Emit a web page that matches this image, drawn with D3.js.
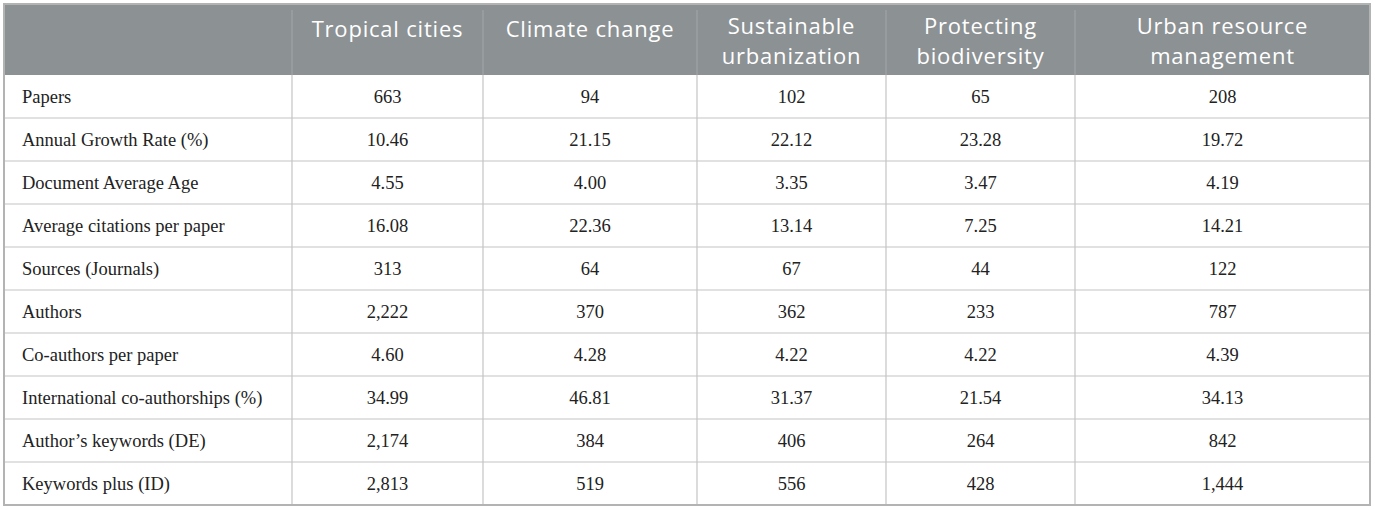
<!DOCTYPE html>
<html>
<head>
<meta charset="utf-8">
<script src="https://cdn.jsdelivr.net/npm/d3@7"></script>
<style>
  body { margin: 0; background: #fff; }
</style>
</head>
<body>
<div id="table"></div>
<script>
// column headers (line breaks as in the figure)
const columns = [
  ["Tropical cities"],
  ["Climate change"],
  ["Sustainable", "urbanization"],
  ["Protecting", "biodiversity"],
  ["Urban resource", "management"]
];

const rowLabels = [
  "Papers",
  "Annual Growth Rate (%)",
  "Document Average Age",
  "Average citations per paper",
  "Sources (Journals)",
  "Authors",
  "Co-authors per paper",
  "International co-authorships (%)",
  "Author\u2019s keywords (DE)",
  "Keywords plus (ID)"
];

const tropicalCities = ["663", "10.46", "4.55", "16.08", "313", "2,222", "4.60", "34.99", "2,174", "2,813"];
const climateChange = ["94", "21.15", "4.00", "22.36", "64", "370", "4.28", "46.81", "384", "519"];
const sustainableUrbanization = ["102", "22.12", "3.35", "13.14", "67", "362", "4.22", "31.37", "406", "556"];
const protectingBiodiversity = ["65", "23.28", "3.47", "7.25", "44", "233", "4.22", "21.54", "264", "428"];
const urbanResource = ["208", "19.72", "4.19", "14.21", "122", "787", "4.39", "34.13", "842", "1,444"];

const series = [tropicalCities, climateChange, sustainableUrbanization, protectingBiodiversity, urbanResource];

// layout
const width = 1375, height = 510;
const tLeft = 4, tRight = 1370, tTop = 4, headerBottom = 75, tBottom = 505;
const colEdges = [tLeft, 292, 483, 697, 886, 1075, tRight];

const svg = d3.select("#table").append("svg")
    .attr("width", width)
    .attr("height", height);

const y = d3.scaleBand()
    .domain(d3.range(rowLabels.length))
    .range([headerBottom, tBottom]);

// column index -> left edge; index 0 is the label column
const x0 = d3.scaleOrdinal().domain(d3.range(colEdges.length - 1)).range(colEdges.slice(0, -1));
const x1 = d3.scaleOrdinal().domain(d3.range(colEdges.length - 1)).range(colEdges.slice(1));
const xMid = i => (x0(i) + x1(i)) / 2;

// header background
svg.append("rect")
    .attr("x", tLeft).attr("y", tTop)
    .attr("width", tRight - tLeft).attr("height", headerBottom - tTop)
    .attr("fill", "#8c9194");

// row lines
svg.append("g").selectAll("line")
    .data(d3.range(1, rowLabels.length))
    .join("line")
    .attr("x1", tLeft).attr("x2", tRight)
    .attr("y1", d => y(d)).attr("y2", d => y(d))
    .attr("stroke", "#c4c4c4").attr("stroke-width", 1.2);

// column lines (header part lighter)
svg.append("g").selectAll("line")
    .data(d3.range(1, colEdges.length - 1))
    .join("line")
    .attr("x1", d => x0(d)).attr("x2", d => x0(d))
    .attr("y1", headerBottom).attr("y2", tBottom)
    .attr("stroke", "#c4c4c4").attr("stroke-width", 1.2);

svg.append("g").selectAll("line")
    .data(d3.range(1, colEdges.length - 1))
    .join("line")
    .attr("x1", d => x0(d)).attr("x2", d => x0(d))
    .attr("y1", tTop + 6).attr("y2", headerBottom)
    .attr("stroke", "#a3a8ab").attr("stroke-width", 1);

// outer border
svg.append("rect")
    .attr("x", tLeft).attr("y", tTop)
    .attr("width", tRight - tLeft).attr("height", tBottom - tTop)
    .attr("fill", "none")
    .attr("stroke", "#b3b3b3").attr("stroke-width", 2);

// header text
const head = svg.append("g")
    .attr("font-family", "'Open Sans', Lato, sans-serif")
    .attr("font-size", 22)
    .attr("letter-spacing", 0.8)
    .attr("fill", "#ffffff")
    .attr("text-anchor", "middle");

columns.forEach((lines, i) => {
  head.append("text")
      .attr("x", xMid(i + 1))
      .attr("y", lines.length > 1 ? 34 : 37)
      .selectAll("tspan")
      .data(lines)
      .join("tspan")
      .attr("x", xMid(i + 1))
      .attr("dy", (d, k) => k === 0 ? 0 : 30)
      .text(d => d);
});

// body text
const body = svg.append("g")
    .attr("font-family", "'Liberation Serif', 'DejaVu Serif', serif")
    .attr("font-size", 18.5)
    .attr("fill", "#222");

body.selectAll("text.label")
    .data(rowLabels)
    .join("text")
    .attr("class", "label")
    .attr("x", 22)
    .attr("y", (d, i) => y(i) + 28)
    .text(d => d);

series.forEach((vals, c) => {
  body.append("g").selectAll("text")
      .data(vals)
      .join("text")
      .attr("text-anchor", "middle")
      .attr("x", xMid(c + 1))
      .attr("y", (d, i) => y(i) + 28)
      .text(d => d);
});
</script>
</body>
</html>
